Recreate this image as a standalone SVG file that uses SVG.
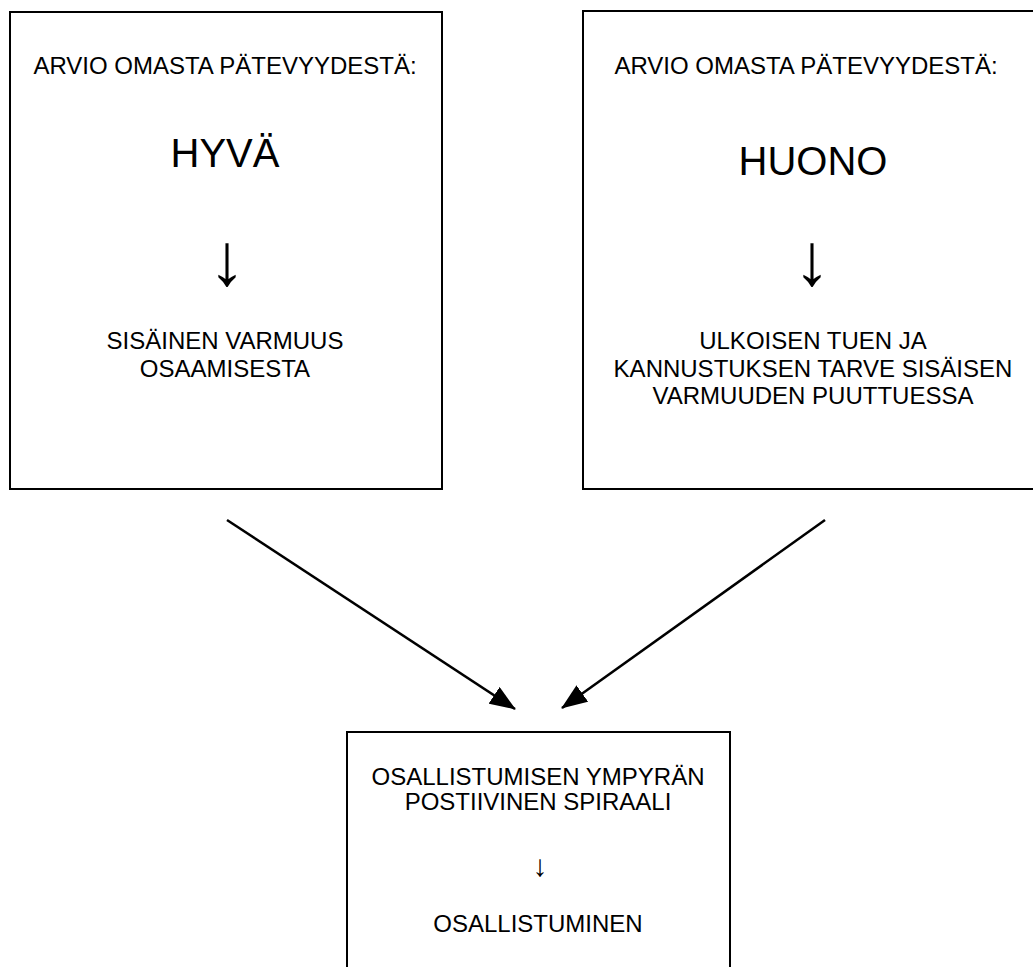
<svg xmlns="http://www.w3.org/2000/svg" width="1033" height="967" viewBox="0 0 1033 967">
  <style>
    .box { fill: #ffffff; stroke: #000000; stroke-width: 2; }
    .t { font-family: "Liberation Sans", Arial, sans-serif; fill: #000000; text-anchor: middle; }
    .s24 { font-size: 24px; }
    .s40 { font-size: 40px; }
    .big-arrow { font-size: 74px; }
    .small-arrow { font-size: 30px; }
    .conn { stroke: #000000; stroke-width: 2.5; fill: none; }
  </style>
  <defs>
    <marker id="head" viewBox="0 0 26 20" refX="25" refY="10" markerWidth="26" markerHeight="20" markerUnits="userSpaceOnUse" orient="auto">
      <path d="M0,0 L26,10 L0,20 Z" fill="#000000"/>
    </marker>
  </defs>
  <rect width="1033" height="967" fill="#ffffff"/>

  <g id="node-hyva">
    <rect class="box" x="10" y="12" width="432" height="477"/>
    <text class="t s24" x="225" y="74">ARVIO OMASTA PÄTEVYYDESTÄ:</text>
    <text class="t s40" x="225" y="167">HYVÄ</text>
    <text class="t big-arrow" x="227" y="285">↓</text>
    <text class="t s24" x="225" y="349">SISÄINEN VARMUUS</text>
    <text class="t s24" x="225" y="377">OSAAMISESTA</text>
  </g>

  <g id="node-huono">
    <rect class="box" x="583" y="11" width="460" height="478"/>
    <text class="t s24" x="806" y="74">ARVIO OMASTA PÄTEVYYDESTÄ:</text>
    <text class="t s40" x="813" y="175">HUONO</text>
    <text class="t big-arrow" x="812" y="285">↓</text>
    <text class="t s24" x="813" y="349">ULKOISEN TUEN JA</text>
    <text class="t s24" x="813" y="377">KANNUSTUKSEN TARVE SISÄISEN</text>
    <text class="t s24" x="813" y="404">VARMUUDEN PUUTTUESSA</text>
  </g>

  <g id="node-osallistuminen">
    <rect class="box" x="347" y="732" width="383" height="260"/>
    <text class="t s24" x="538" y="785">OSALLISTUMISEN YMPYRÄN</text>
    <text class="t s24" x="538" y="810">POSTIIVINEN SPIRAALI</text>
    <text class="t small-arrow" x="540" y="876">↓</text>
    <text class="t s24" x="538" y="932">OSALLISTUMINEN</text>
  </g>

  <g id="connectors">
    <line class="conn" x1="227" y1="520" x2="515" y2="709" marker-end="url(#head)"/>
    <line class="conn" x1="825" y1="520" x2="562" y2="708" marker-end="url(#head)"/>
  </g>
</svg>
